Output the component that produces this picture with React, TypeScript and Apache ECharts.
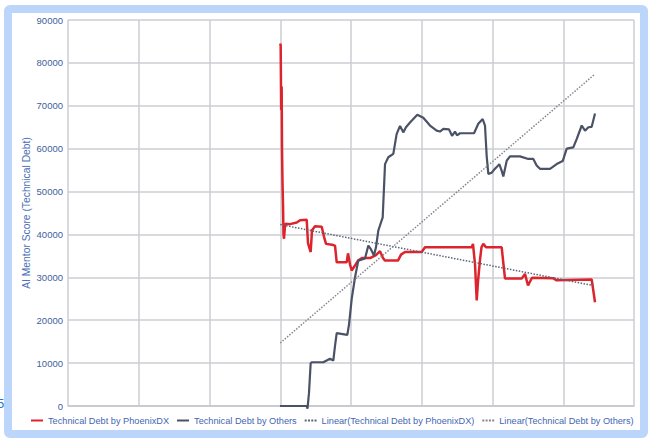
import { useEffect, useRef } from 'react';
import * as echarts from 'echarts';

// Series names (legend order)
const SERIES_NAMES = [
  'Technical Debt by PhoenixDX',
  'Technical Debt by Others',
  'Linear(Technical Debt by PhoenixDX)',
  'Linear(Technical Debt by Others)',
];

// x is a position along the (unlabelled) time axis, 0..80
const phoenixPoints: [number, number][] = [
  [30.0, 84500], [30.06, 84000], [30.13, 69000], [30.2, 74500], [30.25, 60000],
  [30.32, 52000], [30.39, 47000], [30.46, 40000], [30.53, 39000], [30.67, 42000],
  [30.77, 42500], [31.38, 42400], [32.33, 42800], [32.8, 43300], [33.74, 43400],
  [33.92, 38000], [34.3, 35900], [34.49, 41000], [34.91, 41900], [35.86, 41800],
  [36.18, 39500], [36.47, 37800], [37.31, 37600], [37.74, 37400], [37.98, 33500],
  [39.39, 33500], [39.58, 35600], [39.86, 33000], [40.1, 31600], [40.57, 32800],
  [40.99, 33900], [41.55, 34500], [42.69, 34500], [43.53, 35200], [44.1, 36100],
  [44.52, 34500], [44.81, 33900], [46.64, 33900], [47.07, 35300], [47.63, 35900],
  [49.99, 35900], [50.46, 37000], [57.06, 37000], [57.24, 37800], [57.53, 33000],
  [57.77, 24600], [57.95, 29000], [58.23, 34000], [58.44, 37000], [58.7, 37800],
  [59.08, 37000], [61.3, 37000], [61.55, 33000], [61.77, 29700], [64.13, 29700],
  [64.59, 30800], [65.02, 28100], [65.58, 29900], [68.55, 29800], [69.07, 29300],
  [74.02, 29500], [74.49, 24200],
];

const othersPoints: [number, number][] = [
  [29.96, 0], [33.74, 0], [33.85, -600], [34.06, 3000], [34.3, 10000],
  [34.49, 10200], [36.08, 10200], [37.03, 11000], [37.5, 10600], [37.74, 14000],
  [37.98, 17000], [39.48, 16600], [39.72, 19000], [40.1, 25000], [40.57, 30000],
  [41.03, 33900], [41.98, 34400], [42.45, 37400], [42.83, 36500], [43.25, 35100],
  [43.53, 37000], [43.86, 40900], [43.98, 41500], [44.48, 44000], [44.81, 56400],
  [45.27, 58000], [45.98, 58800], [46.45, 63400], [46.93, 65300], [47.39, 63800],
  [47.77, 65000], [48.34, 66100], [49.37, 67900], [50.22, 67200], [51.17, 65400],
  [52.11, 64200], [52.58, 64000], [53.05, 64600], [53.85, 64500], [54.28, 63000],
  [54.7, 64000], [54.98, 63100], [55.41, 63600], [57.39, 63600], [57.99, 65800],
  [58.61, 66900], [58.94, 65400], [59.18, 58200], [59.41, 54100], [59.89, 54400],
  [60.12, 54900], [60.59, 55700], [60.96, 56400], [61.27, 55000], [61.53, 53500],
  [62.01, 57200], [62.47, 58200], [63.89, 58200], [65.06, 57600], [65.77, 57600],
  [66.24, 56100], [66.71, 55300], [68.13, 55300], [69.07, 56400], [69.92, 57100],
  [70.49, 60000], [71.42, 60300], [71.91, 62300], [72.61, 65400], [73.08, 64200],
  [73.55, 65000], [74.02, 65100], [74.49, 68200],
];

// Linear trend end points
const phoenixTrend: [number, number][] = [[30.0, 42300], [74.49, 28000]];
const othersTrend: [number, number][] = [[30.0, 14700], [74.49, 77400]];

const Y_MAX = 90000;
const Y_STEP = 10000;
const X_MAX = 80;
const X_STEP = 10;

const COLORS = {
  phoenix: '#dc242c',
  others: '#4b5266',
  phoenixTrend: '#5c6476',
  othersTrend: '#85878c',
  grid: '#cbced3',
  label: '#42609c',
  legend: '#3f66b3',
};

const SOLID_ICON = 'path://M0,0h12v2h-12z';
const DOTTED_ICON = 'path://M0,0h2v2h-2z M3.3,0h2v2h-2z M6.6,0h2v2h-2z M9.9,0h2v2h-2z';

export default function App() {
  const chartDiv = useRef<HTMLDivElement>(null);

  useEffect(() => {
    if (!chartDiv.current) return;
    const chart = echarts.init(chartDiv.current, null, { renderer: 'svg' });
    const font = '"Liberation Sans", Arial, sans-serif';

    chart.setOption({
      animation: false,
      textStyle: { fontFamily: font },
      grid: { left: 68, right: 19, top: 20, bottom: 33, containLabel: false },
      legend: {
        left: 31,
        top: 416,
        width: 621,
        padding: 0,
        itemWidth: 12,
        itemHeight: 2,
        itemGap: 8,
        textStyle: { color: COLORS.legend, fontSize: 9.2, fontFamily: font },
        data: [
          { name: SERIES_NAMES[0], icon: SOLID_ICON },
          { name: SERIES_NAMES[1], icon: SOLID_ICON },
          { name: SERIES_NAMES[2], icon: DOTTED_ICON },
          { name: SERIES_NAMES[3], icon: DOTTED_ICON },
        ],
      },
      xAxis: {
        type: 'value',
        min: 0,
        max: X_MAX,
        interval: X_STEP,
        axisLabel: { show: false },
        axisTick: { show: false },
        axisLine: { show: true, lineStyle: { color: '#c3c6cb', width: 1.5 } },
        splitLine: { show: true, lineStyle: { color: COLORS.grid, width: 1.5 } },
      },
      yAxis: {
        type: 'value',
        min: 0,
        max: Y_MAX,
        interval: Y_STEP,
        name: 'AI Mentor Score (Technical Debt)',
        nameLocation: 'middle',
        nameGap: 37,
        nameMoveOverlap: false,
        nameTextStyle: { color: '#4a6fb5', fontSize: 10.3, fontFamily: font },
        axisLabel: {
          color: COLORS.label,
          fontSize: 9.5,
          margin: 5,
          fontFamily: font,
          formatter: (v: number) => String(v),
        },
        axisTick: { show: false },
        axisLine: { show: false },
        splitLine: { show: true, lineStyle: { color: COLORS.grid, width: 1.5 } },
      },
      graphic: [
        {
          type: 'text',
          left: -3,
          top: 397,
          style: { text: '5', fill: '#1f78d8', fontSize: 13, fontFamily: font },
        },
      ],
      series: [
        {
          name: SERIES_NAMES[0],
          type: 'line',
          data: phoenixPoints,
          showSymbol: false,
          symbol: 'none',
          clip: false,
          itemStyle: { color: COLORS.phoenix },
          lineStyle: { color: COLORS.phoenix, width: 2.5 },
        },
        {
          name: SERIES_NAMES[1],
          type: 'line',
          data: othersPoints,
          showSymbol: false,
          symbol: 'none',
          clip: false,
          itemStyle: { color: COLORS.others },
          lineStyle: { color: COLORS.others, width: 2.2 },
        },
        {
          name: SERIES_NAMES[2],
          type: 'line',
          data: phoenixTrend,
          showSymbol: false,
          symbol: 'none',
          itemStyle: { color: COLORS.phoenixTrend },
          lineStyle: { color: COLORS.phoenixTrend, width: 1.5, type: [1.5, 1.5] },
        },
        {
          name: SERIES_NAMES[3],
          type: 'line',
          data: othersTrend,
          showSymbol: false,
          symbol: 'none',
          itemStyle: { color: COLORS.othersTrend },
          lineStyle: { color: COLORS.othersTrend, width: 1.5, type: [1.5, 1.5] },
        },
      ],
    });

    return () => chart.dispose();
  }, []);

  return (
    <div style={{ position: 'absolute', left: 0, top: 0, width: 653, height: 439, background: '#fff' }}>
      <div
        style={{
          position: 'absolute',
          left: 4,
          top: 5,
          width: 644,
          height: 433,
          border: '8px solid #bcd5fa',
          borderRadius: 6,
          boxSizing: 'border-box',
          background: '#fff',
        }}
      />
      <div ref={chartDiv} style={{ position: 'absolute', left: 0, top: 0, width: 653, height: 439 }} />
    </div>
  );
}
